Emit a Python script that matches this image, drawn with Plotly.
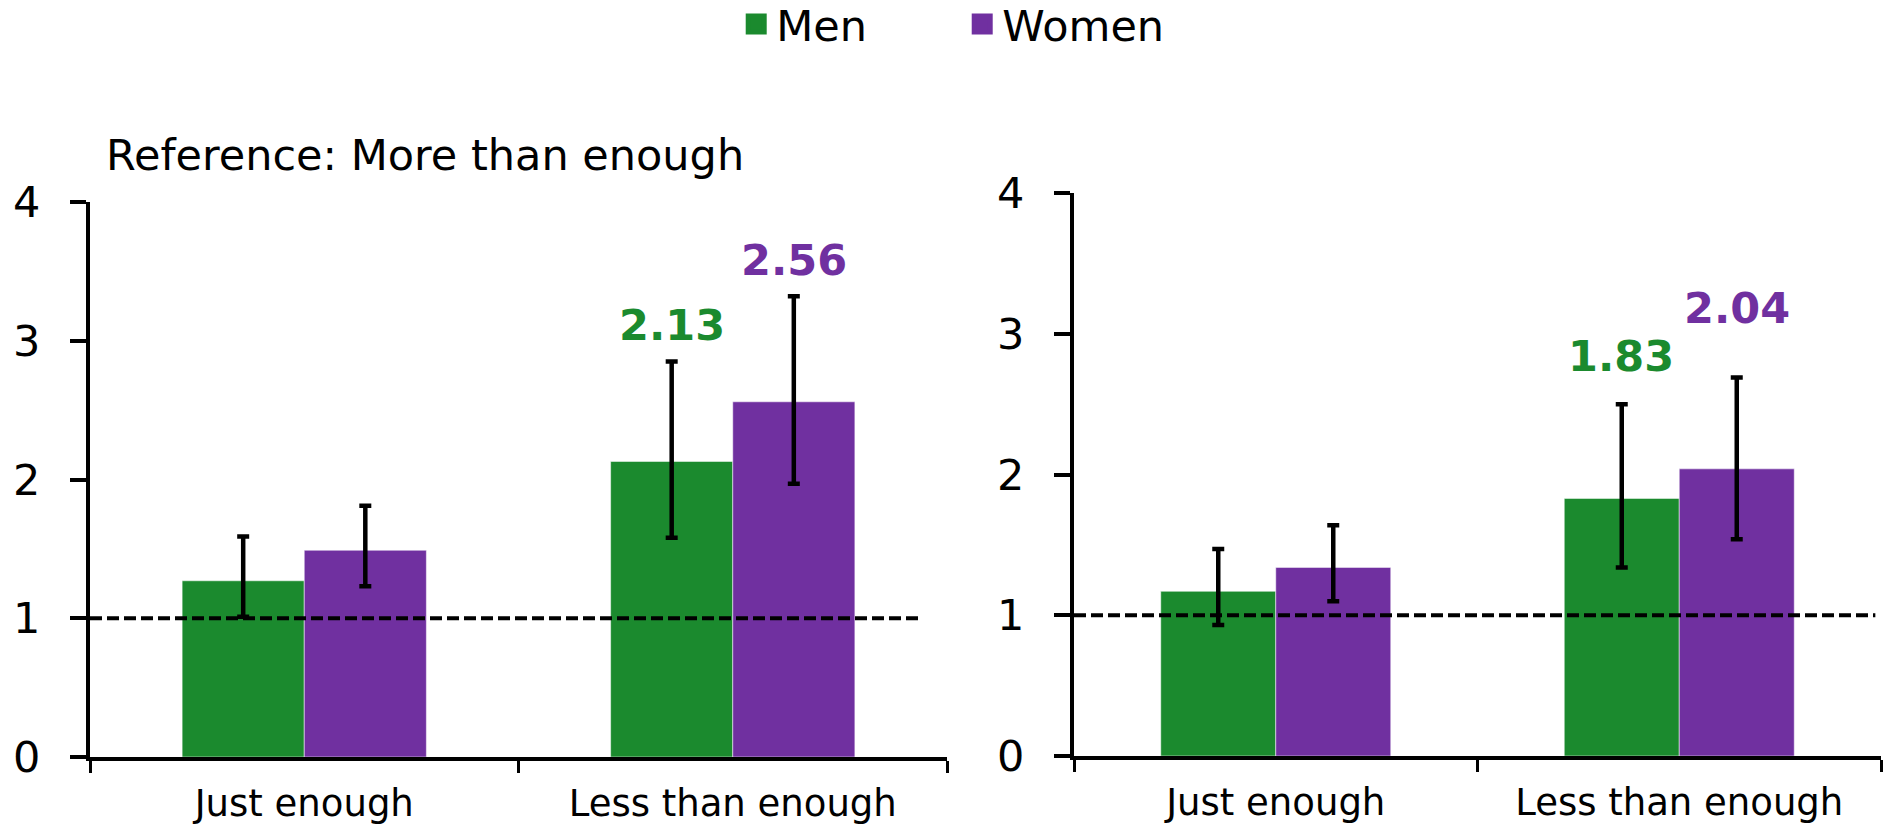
import plotly.graph_objects as go

# ---------------- data ----------------
categories = ["Just enough", "Less than enough"]
series_names = ["Men", "Women"]

men_left = [1.27, 2.13]
women_left = [1.49, 2.56]
men_left_lo = [1.01, 1.58]
men_left_hi = [1.59, 2.85]
women_left_lo = [1.23, 1.97]
women_left_hi = [1.81, 3.32]

men_right = [1.17, 1.83]
women_right = [1.34, 2.04]
men_right_lo = [0.93, 1.34]
men_right_hi = [1.47, 2.50]
women_right_lo = [1.10, 1.54]
women_right_hi = [1.64, 2.69]

y_ticks = [0, 1, 2, 3, 4]
panel_title = "Reference: More than enough"
reference_value = 1

# ---------------- style ----------------
GREEN = "#1b8a2e"
PURPLE = "#7030a0"
FONT = "DejaVu Sans"
FS_BIG = 43
FS_X = 37

fig = go.Figure()


def add_bars(vals, lo, hi, color, xa, ya, name):
    fig.add_trace(go.Bar(
        x=categories, y=vals, name=name,
        marker=dict(color=color, line=dict(width=1, color="rgba(255,255,255,0.5)")),
        xaxis=xa, yaxis=ya, showlegend=False,
        error_y=dict(type="data", symmetric=False,
                     array=[h - v for h, v in zip(hi, vals)],
                     arrayminus=[v - l for l, v in zip(lo, vals)],
                     color="black", thickness=4.5, width=6),
    ))


add_bars(men_left, men_left_lo, men_left_hi, GREEN, "x", "y", "Men")
add_bars(women_left, women_left_lo, women_left_hi, PURPLE, "x", "y", "Women")
add_bars(men_right, men_right_lo, men_right_hi, GREEN, "x2", "y2", "Men")
add_bars(women_right, women_right_lo, women_right_hi, PURPLE, "x2", "y2", "Women")

# legend entries
for nm, col in zip(series_names, [GREEN, PURPLE]):
    fig.add_trace(go.Scatter(
        x=[None], y=[None], mode="markers", name=nm,
        marker=dict(symbol="square", size=16, color=col, line=dict(color=col, width=5)),
        xaxis="x", yaxis="y",
    ))

W, H = 1883, 829

xcommon = dict(type="category", showgrid=False, zeroline=False, showline=True,
               linecolor="black", linewidth=4, ticks="outside", tickson="boundaries",
               ticklen=12, tickwidth=3, tickcolor="black",
               tickfont=dict(family=FONT, size=FS_X, color="black"),
               range=[-0.5, 1.5], fixedrange=True, ticklabelstandoff=11)
ycommon = dict(range=[0, 4], tickvals=y_ticks, showgrid=False, zeroline=False,
               showline=True, linecolor="black", linewidth=4, ticks="outside",
               ticklen=16, tickwidth=4, tickcolor="black",
               tickfont=dict(family=FONT, size=FS_BIG, color="black"),
               ticklabelstandoff=21, fixedrange=True)

fig.update_layout(
    width=W, height=H,
    margin=dict(l=0, r=0, t=0, b=0, autoexpand=False),
    paper_bgcolor="white", plot_bgcolor="white",
    barmode="group", bargap=0.43, bargroupgap=0,
    font=dict(family=FONT, size=FS_BIG, color="black"),
    xaxis=dict(xcommon, domain=[90 / W, 947 / W], anchor="y"),
    yaxis=dict(ycommon, domain=[(H - 757) / H, (H - 202) / H], anchor="x"),
    xaxis2=dict(xcommon, domain=[1074 / W, 1881 / W], anchor="y2"),
    yaxis2=dict(ycommon, domain=[(H - 756) / H, (H - 193) / H], anchor="x2"),
    legend=dict(orientation="h", xref="container", yref="container",
                x=0.511, xanchor="center", y=0.971, yanchor="middle",
                font=dict(family=FONT, size=FS_BIG, color="black"),
                bgcolor="rgba(0,0,0,0)", itemsizing="trace", entrywidth=181,
                entrywidthmode="pixels"),
    showlegend=True,
)

# reference lines at 1
fig.add_shape(type="line", xref="x domain", yref="y", x0=0, x1=0.97,
              y0=reference_value, y1=reference_value,
              line=dict(color="black", width=4, dash="12px,5px"))
fig.add_shape(type="line", xref="x2 domain", yref="y2", x0=0, x1=0.993,
              y0=reference_value, y1=reference_value,
              line=dict(color="black", width=4, dash="12px,5px"))

# panel title
fig.add_annotation(text=panel_title, xref="x domain", yref="y domain", x=0.016, y=1.0,
                   xanchor="left", yanchor="bottom", yshift=20, showarrow=False,
                   font=dict(family=FONT, size=FS_BIG, color="black"))

# value labels on "Less than enough" bars
label_specs = [
    ("x", "y", men_left[1], men_left_hi[1], GREEN, -61),
    ("x", "y", women_left[1], women_left_hi[1], PURPLE, 61),
    ("x2", "y2", men_right[1], men_right_hi[1], GREEN, -58),
    ("x2", "y2", women_right[1], women_right_hi[1], PURPLE, 58),
]
label_lift = [0.26, 0.26, 0.34, 0.49]
for (xa, ya, v, top, col, xs), lift in zip(label_specs, label_lift):
    fig.add_annotation(text=f"<b>{v:.2f}</b>", xref=xa, yref=ya, x=categories[1],
                       y=top + lift, xshift=xs, showarrow=False,
                       font=dict(family=FONT, size=FS_BIG, color=col))

fig.write_html("out.html", config={"displayModeBar": False},
               post_script="document.body.style.margin='0';")
